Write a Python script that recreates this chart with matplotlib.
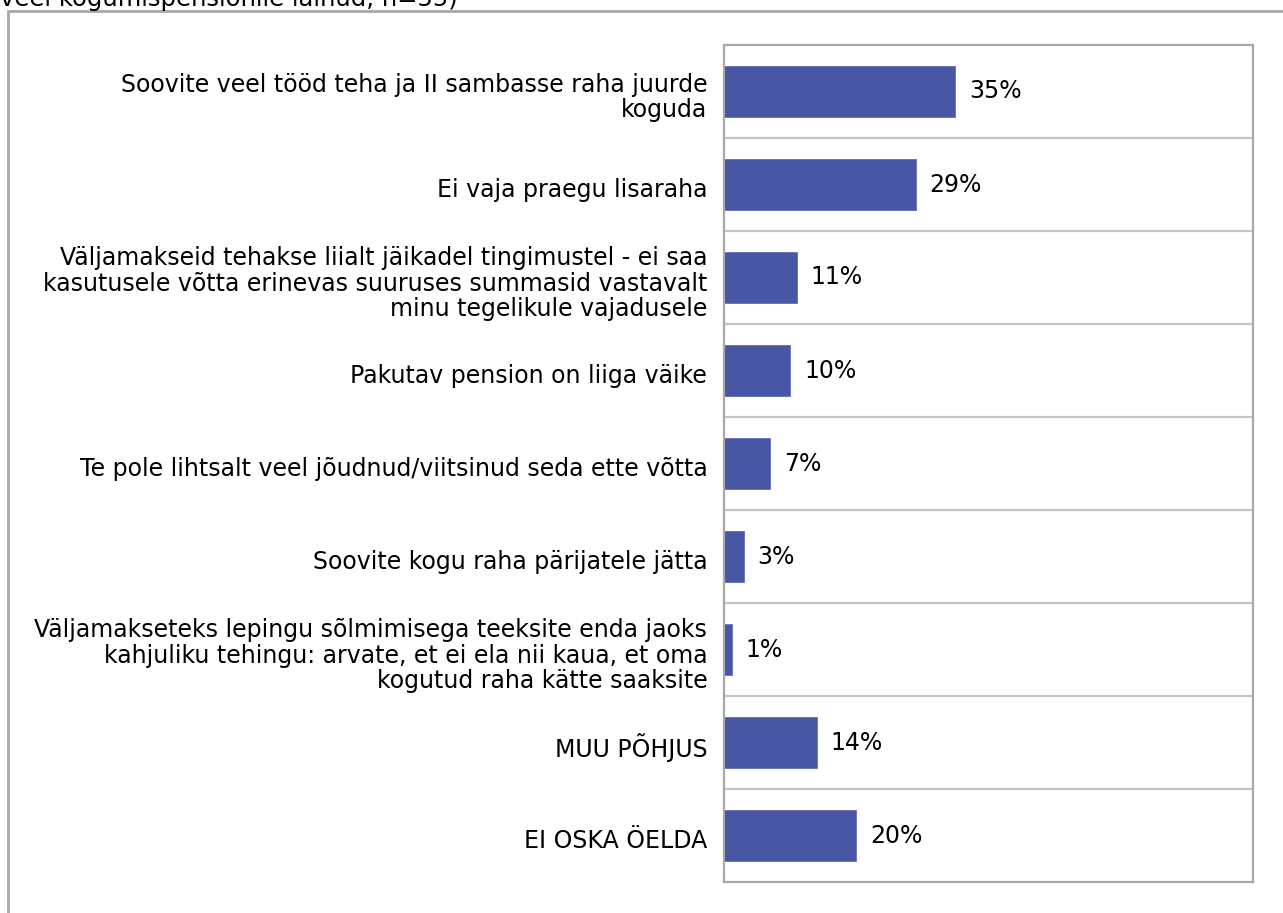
import matplotlib.pyplot as plt
import matplotlib.transforms as mtransforms
import numpy as np

# Data
categories = [
    "Soovite veel tööd teha ja II sambasse raha juurde\nkoguda",
    "Ei vaja praegu lisaraha",
    "Väljamakseid tehakse liialt jäikadel tingimustel - ei saa\nkasutusele võtta erinevas suuruses summasid vastavalt\nminu tegelikule vajadusele",
    "Pakutav pension on liiga väike",
    "Te pole lihtsalt veel jõudnud/viitsinud seda ette võtta",
    "Soovite kogu raha pärijatele jätta",
    "Väljamakseteks lepingu sõlmimisega teeksite enda jaoks\nkahjuliku tehingu: arvate, et ei ela nii kaua, et oma\nkogutud raha kätte saaksite",
    "MUU PÕHJUS",
    "EI OSKA ÖELDA",
]
values = [35, 29, 11, 10, 7, 3, 1.2, 14, 20]
value_labels = ["35%", "29%", "11%", "10%", "7%", "3%", "1%", "14%", "20%"]

title_tail = "veel kogumispensionile läinud, n=55)"

bar_color = "#4856A5"
grid_color = "#C4C4C4"
frame_color = "#A8A8A8"

fig = plt.figure(figsize=(12.83, 9.13), dpi=100)

# outer frame of the chart area
fig.add_artist(plt.Rectangle((8 / 1283, -0.01), 1.0, 1 - 11 / 913 + 0.01,
                             transform=fig.transFigure, fill=False,
                             edgecolor=frame_color, linewidth=2))
fig.text(0, 1 - 6 / 913, title_tail, fontsize=17.5, ha='left', va='baseline')

ax = fig.add_axes([724 / 1283, 1 - 882 / 913, 529 / 1283, 837 / 913])
y = np.arange(len(categories))
ax.barh(y, values, height=0.54, color=bar_color, edgecolor="#6470B8", linewidth=0.6)

for i, lab in enumerate(value_labels):
    ax.text(values[i] + 2.1, i, lab, va='center', ha='left', fontsize=17)

ax.set_xlim(0, 80)
ax.set_ylim(len(categories) - 0.5, -0.5)
for b in np.arange(0.5, len(categories) - 1, 1):
    ax.axhline(b, color=grid_color, linewidth=1.6)

ax.set_yticks(y)
ax.set_yticklabels(categories, fontsize=17, linespacing=1.06)
ax.tick_params(axis='y', length=0, pad=12)
shift = mtransforms.ScaledTranslation(0, -3 / 100, fig.dpi_scale_trans)
for lbl in ax.get_yticklabels():
    lbl.set_transform(lbl.get_transform() + shift)
ax.set_xticks([])
for s in ax.spines.values():
    s.set_color(frame_color)
    s.set_linewidth(1.6)

fig.savefig("out.png", dpi=100)
